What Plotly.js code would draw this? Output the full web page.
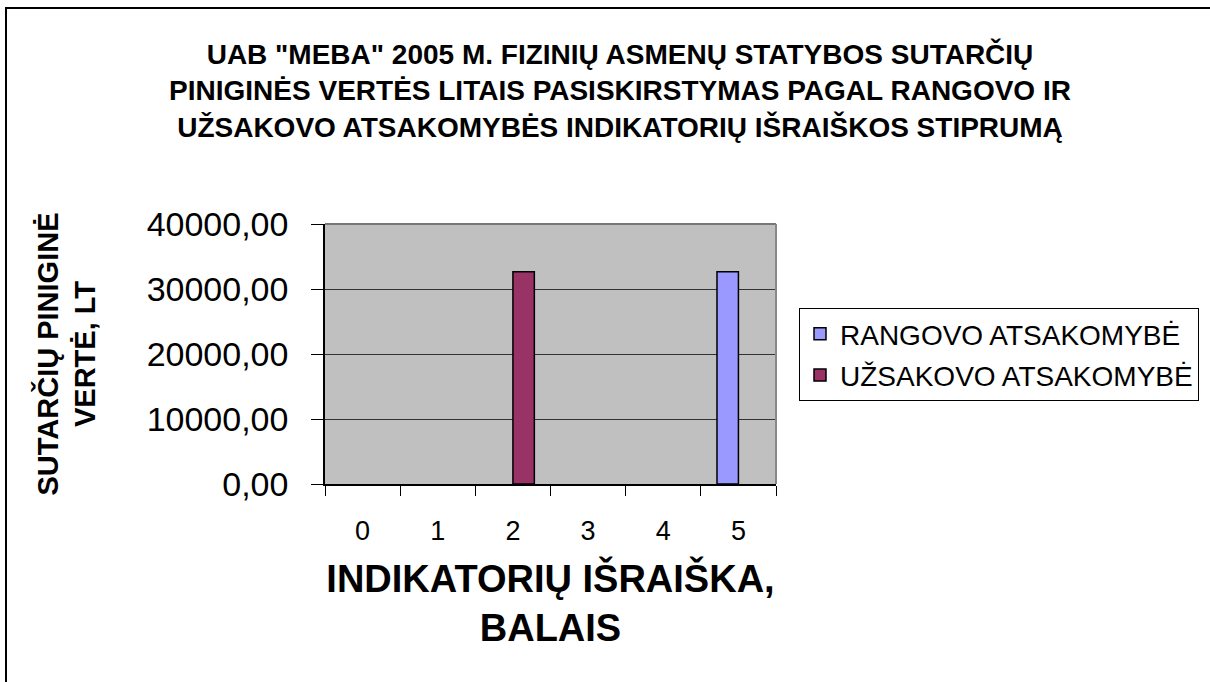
<!DOCTYPE html>
<html>
<head>
<meta charset="utf-8">
<script src="https://cdn.plot.ly/plotly-3.0.1.min.js"></script>
<style>
  body { margin: 0; background: #fff; }
  #chartWrap { position: relative; width: 1210px; height: 682px; overflow: hidden; }
  #chartMain { position: absolute; left: 0; top: 0; width: 1210px; height: 682px; }
  #chartFrame { position: absolute; left: 5px; top: 7px; width: 1300px; height: 800px;
    border-left: 2px solid #000; border-top: 2px solid #000; pointer-events: none; }
</style>
</head>
<body>
<div id="chartWrap">
  <div id="chartMain"></div>
  <div id="chartFrame"></div>
</div>
<script>
// indikatorių išraiška (balai)
const chartCategories = ['0', '1', '2', '3', '4', '5'];
// sutarčių piniginė vertė, Lt (null = no contracts)
const chartRangovo = [null, null, null, null, null, 32650];
const chartUzsakovo = [null, null, 32650, null, null, null];
const chartYTicks = [0, 10000, 20000, 30000, 40000];

const chartFont = 'Arial, "Liberation Sans", sans-serif';

function chartCreatePlot() {
    const rangovoTrace = {
        x: chartCategories,
        y: chartRangovo,
        type: 'bar',
        name: 'RANGOVO ATSAKOMYBĖ',
        legendgroup: 'a',
        marker: { color: '#9999FF', line: { color: '#000', width: 1.5 } }
    };

    const uzsakovoTrace = {
        x: chartCategories,
        y: chartUzsakovo,
        type: 'bar',
        name: 'UŽSAKOVO ATSAKOMYBĖ',
        legendgroup: 'b',
        marker: { color: '#993366', line: { color: '#000', width: 1.5 } }
    };

    const chartLayout = {
        width: 1210,
        height: 682,
        margin: { l: 325, r: 433, t: 224, b: 198 },
        paper_bgcolor: '#fff',
        plot_bgcolor: '#C0C0C0',
        separators: ',.',
        font: { family: chartFont, color: '#000' },
        barmode: 'group',
        bargap: 0.43,
        bargroupgap: 0,
        title: {
            text: 'UAB "MEBA" 2005 M. FIZINIŲ ASMENŲ STATYBOS SUTARČIŲ<br>' +
                  'PINIGINĖS VERTĖS LITAIS PASISKIRSTYMAS PAGAL RANGOVO IR<br>' +
                  'UŽSAKOVO ATSAKOMYBĖS INDIKATORIŲ IŠRAIŠKOS STIPRUMĄ',
            font: { family: chartFont, size: 28, weight: 'bold', color: '#000' },
            xref: 'container', x: 0.5124, xanchor: 'center',
            yref: 'container', y: 1 - 64 / 682, yanchor: 'top'
        },
        xaxis: {
            type: 'category',
            tickson: 'boundaries',
            ticks: 'outside',
            ticklen: 10,
            tickcolor: '#000',
            tickwidth: 1,
            showline: true,
            linecolor: '#000',
            linewidth: 1.5,
            showgrid: false,
            zeroline: false,
            ticklabelstandoff: 22,
            tickfont: { size: 27 },
            automargin: false,
            title: {
                text: 'INDIKATORIŲ IŠRAIŠKA,<br>BALAIS',
                font: { size: 38, weight: 'bold' },
                standoff: 20
            }
        },
        yaxis: {
            range: [0, 40000],
            tickvals: chartYTicks,
            tickformat: '.2f',
            ticks: 'outside',
            ticklen: 12,
            tickcolor: '#000',
            showline: true,
            linecolor: '#000',
            linewidth: 1.5,
            showgrid: true,
            gridcolor: '#333',
            gridwidth: 1,
            zeroline: false,
            ticklabelstandoff: 16,
            tickfont: { size: 34 },
            automargin: false,
            title: {
                text: 'SUTARČIŲ PINIGINĖ<br>VERTĖ, LT',
                font: { size: 29, weight: 'bold' },
                standoff: 42
            }
        },
        shapes: [
            { type: 'line', xref: 'paper', yref: 'paper', x0: 0, x1: 1, y0: 1, y1: 1,
              line: { color: '#777', width: 2 } },
            { type: 'line', xref: 'paper', yref: 'paper', x0: 1, x1: 1, y0: 0, y1: 1,
              line: { color: '#888', width: 2 } }
        ],
        showlegend: true,
        legend: {
            x: (799 - 325) / 452, xanchor: 'left',
            y: (484 - 308) / 260, yanchor: 'top',
            bgcolor: '#fff',
            bordercolor: '#000',
            borderwidth: 1,
            traceorder: 'grouped',
            tracegroupgap: 2,
            font: { size: 28 }
        }
    };

    Plotly.newPlot('chartMain', [rangovoTrace, uzsakovoTrace], chartLayout, { displayModeBar: false });
}

chartCreatePlot();
</script>
</body>
</html>
